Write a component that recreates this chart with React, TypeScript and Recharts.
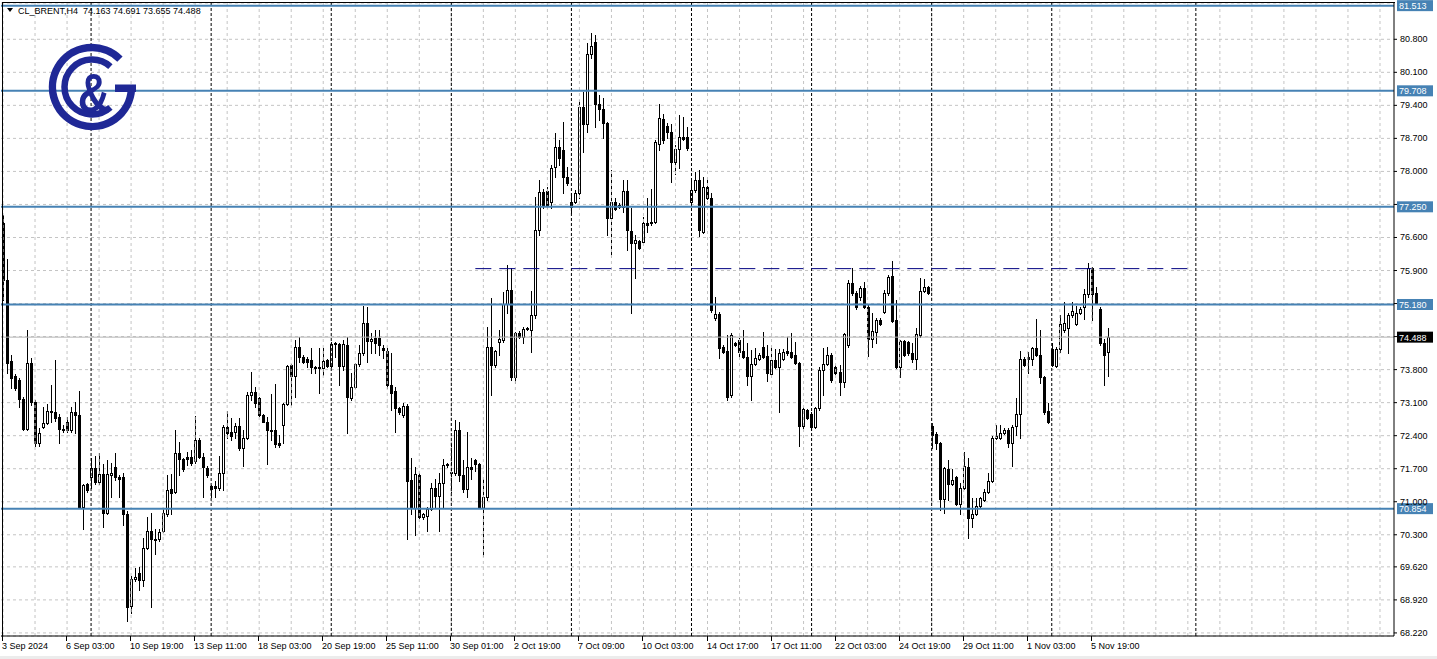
import React from 'react';
import { ComposedChart, Bar, XAxis, YAxis, CartesianGrid, ReferenceLine } from 'recharts';

// ---- data (H4 candles, CL_BRENT) ----
const OPEN = [
  76.90,75.69,73.98,73.66,73.57,73.17,72.55,73.93,73.11,72.24,
  72.58,72.66,72.90,72.90,72.79,72.55,72.68,72.51,72.90,72.83,
  70.88,71.37,71.52,71.71,71.41,71.58,70.77,71.56,71.73,71.52,
  71.52,70.75,68.80,69.37,69.48,69.35,70.03,70.39,70.22,70.20,
  70.39,70.75,71.26,71.20,72.03,71.90,71.94,71.94,71.86,72.30,
  71.94,71.71,71.33,71.33,71.30,71.60,72.58,72.47,72.47,72.60,
  72.13,72.36,73.26,73.32,73.19,72.83,72.70,72.51,72.51,72.24,
  72.62,73.07,73.89,73.66,74.27,74.06,74.02,74.00,73.85,73.85,
  73.83,74.00,73.87,74.36,74.34,73.87,74.32,73.19,73.43,73.91,
  74.15,74.78,74.40,74.46,74.46,74.25,74.19,73.47,73.34,72.98,
  72.83,73.02,71.47,70.86,71.56,70.67,70.69,70.84,71.30,71.13,
  71.39,71.81,71.64,71.60,72.51,71.56,71.26,71.73,71.88,71.81,
  70.88,71.09,74.27,73.89,74.38,74.42,75.19,75.48,73.64,74.57,
  74.49,74.68,74.63,74.95,76.76,77.56,77.58,77.35,78.09,78.52,
  78.45,77.88,77.24,77.35,77.54,79.36,79.00,80.49,80.74,79.43,
  79.32,79.02,77.01,77.35,77.29,77.24,77.58,76.73,76.48,76.52,
  76.50,76.90,76.92,76.92,78.58,79.11,78.96,78.83,78.20,78.47,
  78.73,78.73,77.35,77.60,77.82,76.71,77.67,77.43,74.89,74.97,
  74.27,74.19,73.26,74.36,74.42,74.19,74.06,73.66,73.91,74.02,
  74.27,74.08,73.70,74.00,73.85,74.02,74.19,74.17,74.10,73.93,
  72.60,72.94,72.87,72.58,72.98,73.79,73.91,74.10,73.85,73.74,
  73.53,74.32,75.63,75.42,75.33,75.52,75.12,74.44,74.59,74.85,
  75.02,75.42,75.78,74.85,73.85,74.40,74.38,74.15,74.02,74.53,
  75.46,75.55,72.60,72.43,72.24,71.05,71.69,71.37,71.52,70.96,
  71.30,71.73,70.65,70.75,70.92,71.03,71.20,71.45,72.36,72.36,
  72.45,72.53,72.24,72.60,72.87,74.02,74.06,74.02,74.25,74.12,
  73.64,72.92,74.23,73.87,74.23,74.63,74.68,74.95,74.76,74.99,
  75.12,75.40,75.95,75.42,75.08,74.36,74.163,
];
const HIGH = [
  77.07,76.14,74.12,73.70,73.62,73.23,74.63,74.04,73.15,72.56,
  73.00,73.07,73.47,74.00,72.87,72.62,72.79,73.00,73.11,73.34,
  71.37,71.39,71.92,71.98,72.03,71.81,71.88,71.83,72.03,71.56,
  71.60,70.80,69.42,69.59,69.61,70.24,70.67,70.77,70.43,70.43,
  70.86,71.56,71.58,72.51,72.26,71.92,72.05,72.09,72.81,72.36,
  72.03,71.75,71.35,71.45,71.98,72.62,72.92,72.77,72.66,72.77,
  72.51,73.32,73.74,73.43,73.21,72.87,72.79,73.28,73.49,72.41,
  73.09,73.89,73.91,74.42,74.49,74.10,74.06,74.25,73.87,74.25,
  74.25,74.02,74.38,74.38,74.36,74.42,74.49,73.72,73.93,74.32,
  75.14,75.12,74.57,74.63,74.63,74.32,74.25,74.15,73.43,73.00,
  73.09,73.07,71.92,71.73,71.60,70.77,70.88,71.39,71.49,71.60,
  71.90,71.83,72.26,72.73,72.68,71.88,72.47,71.92,71.90,71.83,
  71.49,74.70,75.31,74.21,74.63,75.44,76.01,75.95,74.59,74.61,
  74.70,74.70,75.46,77.46,77.82,77.62,77.67,78.13,78.81,78.66,
  79.05,78.09,77.54,77.60,79.51,79.68,80.72,80.93,80.89,79.62,
  79.56,79.05,78.03,77.43,77.33,77.82,77.82,77.22,76.65,76.54,
  77.03,77.43,77.62,78.66,79.43,79.22,79.03,79.00,78.56,79.19,
  79.15,78.94,77.82,77.99,78.03,77.88,77.86,77.54,75.33,75.02,
  74.32,74.53,74.57,74.38,74.46,74.63,74.36,74.21,74.25,74.15,
  74.59,74.32,74.32,74.23,74.23,74.23,74.49,74.57,74.38,73.96,
  73.00,72.96,72.90,73.00,73.85,74.25,74.27,74.15,73.89,73.89,
  74.57,75.69,75.95,75.46,75.57,75.65,75.16,74.99,74.89,74.89,
  75.48,75.80,76.10,75.27,74.42,74.42,74.40,74.36,74.68,75.74,
  75.72,75.57,72.66,72.47,72.26,71.73,71.88,71.69,71.54,71.39,
  72.05,71.92,71.07,71.07,71.09,71.28,71.60,72.39,72.62,72.62,
  72.56,72.56,72.62,73.19,74.19,74.06,74.17,74.27,74.87,74.63,
  73.66,73.09,74.36,74.27,74.95,75.23,74.99,75.23,75.14,75.12,
  75.50,76.06,75.97,75.55,75.12,74.44,74.691,
];
const LOW = [
  75.27,73.72,73.40,73.36,73.00,72.51,72.51,73.04,72.19,72.19,
  72.56,72.64,72.68,72.72,72.24,72.47,72.47,72.47,72.45,70.86,
  70.43,71.20,71.30,71.37,71.37,70.46,70.75,71.09,71.47,71.09,
  70.50,68.48,68.65,69.33,69.12,69.22,69.99,68.76,69.90,70.16,
  70.35,70.69,70.75,71.18,71.56,71.66,71.77,71.77,71.83,71.92,
  71.09,71.52,71.09,71.09,71.24,71.24,72.36,72.30,72.36,72.09,
  71.75,72.34,73.15,73.00,72.81,72.68,71.79,72.30,72.15,72.15,
  72.24,73.04,73.04,73.21,73.96,73.93,73.85,73.72,73.72,73.30,
  73.68,73.85,73.85,74.06,73.47,73.79,72.45,73.15,73.40,73.87,
  74.10,73.96,74.15,74.15,74.10,74.04,73.40,72.94,72.47,72.87,
  72.79,70.22,70.75,70.29,70.65,70.63,70.39,70.82,70.86,70.39,
  70.86,71.73,71.20,71.56,71.45,71.20,71.09,71.49,71.66,70.86,
  69.86,71.03,73.26,73.85,74.12,74.38,74.99,73.59,73.51,74.46,
  74.36,74.63,74.17,74.89,76.65,77.22,77.22,77.22,77.88,78.13,
  77.54,77.71,77.12,77.33,77.43,78.41,78.83,80.40,78.94,79.09,
  78.71,76.65,76.18,77.18,77.22,77.14,76.33,74.99,75.74,76.35,
  76.48,76.71,76.86,76.90,78.45,78.60,78.71,77.77,77.94,78.07,
  78.67,78.45,77.29,77.56,76.63,76.69,77.41,75.02,74.85,74.04,
  74.15,73.15,73.21,74.29,74.06,74.04,73.47,73.15,73.89,74.00,
  74.04,73.55,73.64,73.83,72.90,74.00,74.10,74.04,73.91,72.19,
  72.56,72.75,72.51,72.56,72.94,73.26,73.89,73.53,73.70,73.26,
  73.43,74.27,75.38,75.08,75.27,75.10,74.08,74.27,74.36,74.74,
  74.99,75.38,74.80,73.83,73.64,74.08,74.12,73.96,73.81,74.49,
  75.44,75.40,72.13,72.11,70.82,70.77,71.03,71.35,70.94,70.75,
  71.28,70.24,70.46,70.71,70.88,71.01,71.18,71.41,72.34,72.34,
  72.43,72.15,71.75,72.41,72.36,73.87,73.72,73.89,74.08,73.51,
  72.87,72.66,73.87,73.85,74.17,74.59,74.15,74.91,74.74,74.97,
  74.87,75.33,74.85,75.19,74.32,73.47,73.655,
];
const CLOSE = [
  75.69,73.93,73.62,73.42,73.17,72.55,73.93,73.11,72.24,72.45,
  72.66,72.92,72.92,72.77,72.55,72.51,72.51,72.90,72.83,70.88,
  71.35,71.24,71.71,71.41,71.58,70.77,71.58,71.60,71.52,71.49,
  70.75,68.76,69.37,69.40,69.35,70.03,70.39,70.20,70.18,70.35,
  70.77,71.24,71.18,72.03,71.90,71.69,71.90,71.83,72.30,71.94,
  71.73,71.56,71.28,71.30,71.60,72.58,72.45,72.39,72.60,72.13,
  72.36,73.26,73.32,73.09,72.83,72.70,72.51,72.49,72.22,72.20,
  73.07,73.87,73.66,74.27,74.06,73.96,73.96,73.85,73.83,73.83,
  73.98,73.87,74.34,74.34,73.87,74.34,73.21,73.43,73.91,74.15,
  74.78,74.40,74.44,74.36,74.32,74.21,73.47,73.30,72.98,72.90,
  73.02,71.45,70.86,71.58,70.67,70.73,70.84,71.30,71.13,71.39,
  71.77,71.79,71.60,72.51,71.56,71.28,71.73,71.69,71.79,70.88,
  71.11,74.27,73.89,74.19,74.44,75.19,75.48,73.64,74.57,74.49,
  74.66,74.66,74.95,76.76,77.56,77.29,77.29,78.07,78.52,78.28,
  77.88,77.75,77.35,77.54,79.36,79.00,80.49,80.66,79.43,79.32,
  79.02,77.01,77.35,77.20,77.24,77.58,76.76,76.48,76.54,76.37,
  76.90,76.86,76.90,78.62,79.13,78.66,78.83,78.20,78.47,78.73,
  78.69,78.49,77.60,77.82,76.76,77.67,77.43,75.06,74.97,74.25,
  74.17,73.21,74.53,74.32,74.17,74.06,73.66,73.91,74.04,74.10,
  74.06,73.72,74.00,73.85,74.15,74.17,74.15,74.06,73.93,72.60,
  72.96,72.77,72.58,72.98,73.79,73.91,74.10,73.57,73.72,73.53,
  74.55,75.63,75.42,75.12,75.52,75.12,74.44,74.61,74.85,74.76,
  75.42,75.76,74.82,73.85,74.40,74.10,74.15,74.02,74.55,75.46,
  75.55,75.42,72.41,72.24,71.05,71.71,71.37,71.47,70.96,71.30,
  71.75,70.65,70.75,70.90,71.07,71.20,71.45,72.36,72.39,72.45,
  72.53,72.24,72.58,72.85,74.02,73.89,74.02,74.25,74.12,73.64,
  72.90,72.68,73.89,74.23,74.76,74.78,74.95,75.04,74.99,75.08,
  75.40,75.95,75.40,75.21,74.36,74.12,74.488,
];

const SLOT_COUNT = 348; // bars + empty chart-shift area
const LABEL_STEP = 16;
const DATE_LABELS = [
  '3 Sep 2024', '6 Sep 03:00', '10 Sep 19:00', '13 Sep 11:00', '18 Sep 03:00', '20 Sep 19:00',
  '25 Sep 11:00', '30 Sep 01:00', '2 Oct 19:00', '7 Oct 09:00', '10 Oct 03:00', '14 Oct 17:00',
  '17 Oct 11:00', '22 Oct 03:00', '24 Oct 19:00', '29 Oct 11:00', '1 Nov 03:00', '5 Nov 19:00',
];
const Y_TICKS = [68.22, 68.92, 69.62, 70.3, 71.0, 71.7, 72.4, 73.1, 73.8, 74.5, 75.2, 75.9, 76.6, 77.3, 78.0, 78.7, 79.4, 80.1, 80.8];
const Y_HIDDEN_LABELS = [74.5, 75.2, 77.3];
const Y_DOMAIN: [number, number] = [68.155, 81.569];
const LEVELS = [81.513, 79.708, 77.25, 75.18, 70.854];
const BID = 74.488;
const RESIST = 75.94;
const RESIST_FROM = 118;
const RESIST_TO = 296;
const WEEK_STARTS = [22, 52, 82, 112, 142, 172, 202, 232, 262, 298];
const GRID_STEP = 8;
const SYMBOL = 'CL_BRENT,H4';

const rows = Array.from({ length: SLOT_COUNT }, (_, i) =>
  i < OPEN.length
    ? { i, open: OPEN[i], high: HIGH[i], low: LOW[i], close: CLOSE[i], range: [LOW[i], HIGH[i]] }
    : { i }
);
const last = OPEN.length - 1;
const TITLE = `${SYMBOL}  ${OPEN[last].toFixed(3)} ${HIGH[last].toFixed(3)} ${LOW[last].toFixed(3)} ${CLOSE[last].toFixed(3)}`;

const FONT = '"Liberation Sans", Arial, sans-serif';
const BLUE = '#4682B4';
const NAVY = '#1f2896';

const Candle = (props: any) => {
  const { x, y, width, height, payload } = props;
  if (!payload || payload.open == null || x == null || y == null) return <g />;
  const { open, close, high, low } = payload;
  const top = Math.min(y, y + height);
  const h = Math.abs(height);
  const k = high - low > 0 ? h / (high - low) : 0;
  const yOf = (v: number) => top + (high - v) * k;
  const cx = Math.round(x + width / 2);
  const bull = close >= open;
  const bTop = Math.round(yOf(Math.max(open, close)));
  const bBot = Math.round(yOf(Math.min(open, close)));
  const yH = Math.round(top);
  const yL = Math.round(top + h);
  return (
    <g>
      <line x1={cx + 0.5} x2={cx + 0.5} y1={yH} y2={yL + 1} stroke="#000" strokeWidth={1} />
      <rect x={cx - 0.5} y={bTop + 0.5} width={2} height={Math.max(bBot - bTop, 1)} fill={bull ? '#fff' : '#000'} stroke="#000" strokeWidth={1} />
    </g>
  );
};

const XTick = (p: any) => {
  const idx = Number(p.payload?.value);
  const lab = idx % LABEL_STEP === 0 && idx < OPEN.length ? DATE_LABELS[idx / LABEL_STEP] : undefined;
  if (!lab) return <g />;
  const x = Math.round(p.x) - 1;
  return (
    <g>
      <line x1={x + 0.5} x2={x + 0.5} y1={636} y2={641} stroke="#000" />
      <text x={x} y={649} fontSize={9} fontFamily={FONT} fill="#000" textAnchor="start">{lab}</text>
    </g>
  );
};

const YTick = (p: any) => {
  const v = Number(p.payload?.value);
  if (Y_HIDDEN_LABELS.some((h) => Math.abs(h - v) < 1e-6)) return <g />;
  return (
    <text x={p.x + 1} y={p.y + 3} fontSize={9} fontFamily={FONT} fill="#000" textAnchor="start">{v.toFixed(3)}</text>
  );
};

const PriceTag = (props: any) => {
  const vb = props.viewBox || {};
  const y = vb.y ?? 0;
  const x = (vb.x ?? 0) + (vb.width ?? 0) + 3;
  return (
    <g>
      <rect x={x} y={y - 5.5} width={36} height={11} fill={props.bg} />
      <text x={x + 2} y={y + 3.5} fontSize={9} fontFamily={FONT} fill="#fff">{props.text}</text>
    </g>
  );
};

function arcPath(cx: number, cy: number, r: number, a0: number, a1: number) {
  const rad = (a: number) => (a * Math.PI) / 180;
  const x0 = cx + r * Math.cos(rad(a0));
  const y0 = cy + r * Math.sin(rad(a0));
  const x1 = cx + r * Math.cos(rad(a1));
  const y1 = cy + r * Math.sin(rad(a1));
  const large = a1 - a0 > 180 ? 1 : 0;
  return `M ${x0} ${y0} A ${r} ${r} 0 ${large} 1 ${x1} ${y1}`;
}

const gridXs = Array.from({ length: Math.ceil(SLOT_COUNT / GRID_STEP) }, (_, k) => k * GRID_STEP);

export default function App() {
  return (
    <div style={{ position: 'relative', width: 1437, height: 659, background: '#fff' }}>
      <style>{'body{margin:0;background:#fff}'}</style>
      <ComposedChart width={1437} height={659} data={rows} margin={{ top: 3, right: 0, bottom: 0, left: 1 }}>
        <CartesianGrid vertical={false} stroke="#c4c4c4" strokeDasharray="3 3" />
        {gridXs.map((gx) => (
          <ReferenceLine key={'g' + gx} x={gx} stroke="#c4c4c4" strokeDasharray="3 3" />
        ))}
        {WEEK_STARTS.map((wx) => (
          <ReferenceLine key={'w' + wx} x={wx} stroke="#000" strokeDasharray="3 2" />
        ))}
        <XAxis
          dataKey="i"
          type="category"
          interval={LABEL_STEP - 1}
          height={23}
          tickLine={false}
          axisLine={{ stroke: '#000' }}
          tick={<XTick />}
        />
        <YAxis
          orientation="right"
          type="number"
          domain={Y_DOMAIN}
          allowDataOverflow
          ticks={Y_TICKS}
          width={43}
          tickSize={3}
          tickMargin={2}
          tickLine={{ stroke: '#000' }}
          axisLine={{ stroke: '#000' }}
          tick={<YTick />}
        />
        <ReferenceLine y={BID} stroke="#b4b4b4" label={<PriceTag bg="#000" text={BID.toFixed(3)} />} />
        <ReferenceLine
          segment={[{ x: RESIST_FROM, y: RESIST }, { x: RESIST_TO, y: RESIST }]}
          stroke="#000080"
          strokeDasharray="16 8"
        />
        {LEVELS.map((lv) => (
          <ReferenceLine key={'l' + lv} y={lv} stroke={BLUE} strokeWidth={2} label={<PriceTag bg={BLUE} text={lv.toFixed(3)} />} />
        ))}
        <Bar dataKey="range" isAnimationActive={false} shape={(p: any) => <Candle {...p} />} />
      </ComposedChart>
      <svg width={1437} height={659} style={{ position: 'absolute', left: 0, top: 0, pointerEvents: 'none' }}>
        <line x1={2.5} x2={2.5} y1={2} y2={636} stroke="#000" />
        <line x1={2} x2={1395} y1={2.5} y2={2.5} stroke="#000" />
        <rect x={0} y={656} width={1437} height={3} fill="#ececec" />
        <polygon points="7,8 13,8 10,12" fill="#000" />
        <text x={18} y={14} fontSize={9} fontFamily={FONT} fill="#000" style={{ whiteSpace: 'pre' }}>{TITLE}</text>
        <path d={arcPath(92, 87, 39.5, 3, 315)} fill="none" stroke={NAVY} strokeWidth={7.5} />
        <rect x={115} y={84.5} width={21} height={7.5} fill={NAVY} />
        <path d={arcPath(92, 87, 27.5, 48, 312)} fill="none" stroke={NAVY} strokeWidth={6.5} />
        <text transform="translate(94 112) scale(0.8 1)" textAnchor="middle" fontSize={56} fontWeight="bold" fontFamily={FONT} fill={NAVY}>&amp;</text>
      </svg>
    </div>
  );
}
